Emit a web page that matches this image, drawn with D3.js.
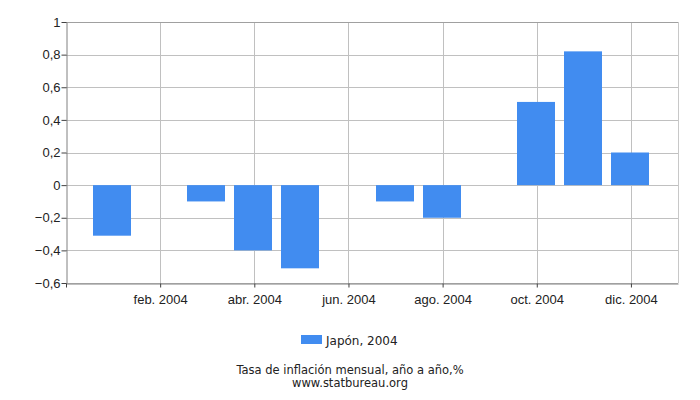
<!DOCTYPE html>
<html>
<head>
<meta charset="utf-8">
<script src="https://cdn.jsdelivr.net/npm/d3@7"></script>
<style>
  body { margin: 0; background: #fff; }
  svg { font-family: "DejaVu Sans", Verdana, sans-serif; }
</style>
</head>
<body>
<script>
// Data
const months = ["2004-01", "2004-02", "2004-03", "2004-04", "2004-05", "2004-06",
                "2004-07", "2004-08", "2004-09", "2004-10", "2004-11", "2004-12"];
const values = [-0.31, 0, -0.1, -0.4, -0.51, 0, -0.1, -0.2, 0, 0.51, 0.82, 0.2];
const yTicks = [-0.6, -0.4, -0.2, 0, 0.2, 0.4, 0.6, 0.8, 1];
const xTickMonths = ["2003-12", "2004-02", "2004-04", "2004-06", "2004-08", "2004-10", "2004-12"];
const monthNames = ["ene.", "feb.", "mar.", "abr.", "may.", "jun.",
                    "jul.", "ago.", "sep.", "oct.", "nov.", "dic."];
const seriesName = "Japón, 2004";
const title = "Tasa de inflación mensual, año a año,%";
const source = "www.statbureau.org";

const width = 700;
const height = 400;
const margin = { top: 22, right: 22, bottom: 117, left: 66 };
const innerW = width - margin.left - margin.right;
const innerH = height - margin.top - margin.bottom;

const data = months.map((m, i) => ({ month: m, value: values[i] }));

const svg = d3.select("body").append("svg")
  .attr("width", width)
  .attr("height", height);

const g = svg.append("g")
  .attr("transform", `translate(${margin.left},${margin.top})`);

// equal month slots from dic. 2003 to ene. 2005
const x = d3.scalePoint()
  .domain(["2003-12", ...months, "2005-01"])
  .range([0, innerW]);

const y = d3.scaleLinear()
  .domain([-0.6, 1])
  .range([innerH, 0]);

const fmt = d3.format(".1f");
const yFmt = v => v === 0 ? "0" : (v === 1 ? "1" : fmt(v).replace(".", ","));
const xFmt = m => {
  const [yr, mo] = m.split("-");
  return yr === "2003" ? "" : monthNames[+mo - 1] + " " + yr;
};

// grid
g.append("g").selectAll("line").data(yTicks).join("line")
  .attr("x1", 0).attr("x2", innerW)
  .attr("y1", d => Math.round(y(d)) + 0.5).attr("y2", d => Math.round(y(d)) + 0.5)
  .attr("stroke", "#c0c0c0");

g.append("g").selectAll("line").data(xTickMonths.slice(1)).join("line")
  .attr("x1", d => Math.round(x(d)) + 0.5).attr("x2", d => Math.round(x(d)) + 0.5)
  .attr("y1", 0).attr("y2", innerH)
  .attr("stroke", "#c0c0c0");

// border top/right
g.append("line").attr("x1", 0).attr("x2", innerW).attr("y1", 0.5).attr("y2", 0.5)
  .attr("stroke", "#a0a0a0");
g.append("line").attr("x1", innerW + 0.5).attr("x2", innerW + 0.5).attr("y1", 0).attr("y2", innerH)
  .attr("stroke", "#c8c8c8");

// bars
const barW = 38;
g.append("g").selectAll("rect").data(data.filter(d => d.value !== 0)).join("rect")
  .attr("x", d => Math.round(x(d.month) - barW / 2) - 1)
  .attr("y", d => y(Math.max(0, d.value)))
  .attr("width", barW)
  .attr("height", d => Math.abs(y(d.value) - y(0)))
  .attr("fill", "#418cf0");

// axes
const yAxis = g.append("g")
  .attr("transform", "translate(0.5,0)")
  .call(d3.axisLeft(y).tickValues(yTicks).tickFormat(yFmt).tickSize(5).tickSizeOuter(0));
yAxis.select(".domain").attr("stroke", "#808080");
yAxis.selectAll(".tick line").attr("stroke", "#404040");
yAxis.selectAll(".tick text").attr("font-size", 13).attr("fill", "#222").attr("x", -6);

const xAxis = g.append("g")
  .attr("transform", `translate(0,${innerH + 0.5})`)
  .call(d3.axisBottom(x).tickValues(xTickMonths).tickFormat(xFmt)
    .tickSize(4).tickSizeOuter(0));
xAxis.select(".domain").attr("stroke", "#808080");
xAxis.selectAll(".tick line").attr("stroke", "#404040");
xAxis.selectAll(".tick text").attr("font-size", 13).attr("fill", "#222").attr("dy", "1.05em");

// legend
const legend = svg.append("g").attr("transform", "translate(301,335)");
legend.append("rect").attr("width", 21).attr("height", 9).attr("fill", "#418cf0");
legend.append("text").attr("x", 25).attr("y", 10).attr("font-size", 12).attr("fill", "#222")
  .text(seriesName);

// title and source
svg.append("text").attr("x", 350).attr("y", 374).attr("text-anchor", "middle")
  .attr("font-size", 11.5).attr("fill", "#222").text(title);
svg.append("text").attr("x", 350).attr("y", 387).attr("text-anchor", "middle")
  .attr("font-size", 11.5).attr("fill", "#222").text(source);
</script>
</body>
</html>
